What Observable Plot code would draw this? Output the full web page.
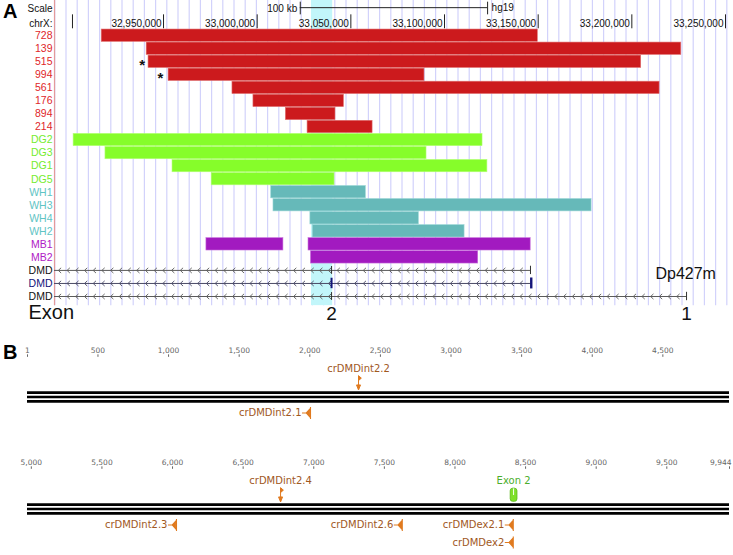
<!DOCTYPE html>
<html><head><meta charset="utf-8">
<script src="https://cdn.jsdelivr.net/npm/d3@7"></script>
<script src="https://cdn.jsdelivr.net/npm/@observablehq/plot@0.6"></script>
<style>
body{margin:0;background:#fff;}
#wrap{position:relative;width:733px;height:555px;overflow:hidden;font-family:"Liberation Sans",Arial,sans-serif;}
.panel{position:absolute;left:0;}
.panel svg{overflow:visible;}
.letter{position:absolute;font:bold 20px "Liberation Sans",Arial,sans-serif;line-height:1;}
</style></head><body><div id="wrap"></div>
<script>
// ---------- Panel A data ----------
const xDomainA = [32891800, 33254270];
const trackLabels = ["728","139","515","994","561","176","894","214","DG2","DG3","DG1","DG5","WH1","WH3","WH4","WH2","MB1","MB2","DMD","DMD","DMD"];
const trackGroup  = ["r","r","r","r","r","r","r","r","g","g","g","g","t","t","t","t","p","p","k","n","k"];
const groupLabelColor = {r:"#e0262a", g:"#74ec2e", t:"#5fc4c4", p:"#b020c6", k:"#111111", n:"#12127a"};
const groupBarColor   = {r:"#cc1a1d", g:"#86fd2a", t:"#66b9b9", p:"#a21ac0"};
const groupBarEdge    = {r:"#e07070", g:"#b6ff7a", t:"#9ad6d6", p:"#c870dc"};

const delRow   = [0,1,2,3,4,5,6,7,8,9,10,11,12,13,14,15,16,16,17];
const delStart = [32917000,32941000,32942000,32952700,32986800,32998000,33015300,33026900,32902000,32919000,32954800,32975700,33007500,33008700,33028400,33029700,32972900,33027400,33028700];
const delEnd   = [33149800,33226400,33205000,33089300,33214800,33046300,33041800,33061600,33120300,33090400,33122900,33041300,33058000,33178500,33086300,33110700,33014000,33146000,33118000];

const asteriskRow = [2,3];
const asteriskPos = [32938600, 32948400];

const chrTicks = [32950000,33000000,33050000,33100000,33150000,33200000,33250000];
const chrTickLabels = ["32,950,000","33,000,000","33,050,000","33,100,000","33,150,000","33,200,000","33,250,000"];
const chrStartTick = [32901400];
const scaleBar = [33023000, 33123000];

const geneRow   = [18,19,20];
const geneStart = [32891800,32891800,32891800];
const geneEnd   = [33145900,33146300,33229200];
const geneLine  = ["#5a5a5a","#4a4a66","#5a5a5a"];
const exon2Pos  = 33039700;
const exon1Pos  = 33229200;
const highlight = [33029000, 33040300];

const guideStart = 32891960, guideStep = 5979;   // UCSC light-blue guide lines
const chevronStep = 4650;                        // intron direction arrows

// ---------- Panel B data ----------
const row1Ticks  = [1,500,1000,1500,2000,2500,3000,3500,4000,4500];
const row1Labels = ["1","500","1,000","1,500","2,000","2,500","3,000","3,500","4,000","4,500"];
const row2Ticks  = [5000,5500,6000,6500,7000,7500,8000,8500,9000,9500,9944];
const row2Labels = ["5,000","5,500","6,000","6,500","7,000","7,500","8,000","8,500","9,000","9,500","9,944"];
const seqRows = [[1,4972],[4973,9944]];

const fwdNames = ["crDMDint2.2","crDMDint2.4"];
const fwdPos   = [2345, 6765];
const revNames = ["crDMDint2.1","crDMDint2.3","crDMDint2.6","crDMDex2.1","crDMDex2"];
const revPos   = [2005, 6028, 7627, 8413, 8413];
const revLane  = [1, 1, 1, 1, 2];
const exonNames = ["Exon 2"];
const exonPos   = [8415];

// ---------- helpers ----------
const wrap = document.getElementById("wrap");
function place(node, top){ const d=document.createElement("div"); d.className="panel"; d.style.top=top+"px"; d.appendChild(node); wrap.appendChild(d); }
function letter(t, left, top){ const d=document.createElement("div"); d.className="letter"; d.textContent=t; d.style.left=left+"px"; d.style.top=top+"px"; wrap.appendChild(d); }

const chevronSym = {draw(c){ c.moveTo(1.4,-2.6); c.lineTo(-1.4,0); c.lineTo(1.4,2.6); }};
const fwdSym = {draw(c){
  c.moveTo(0,-7); c.lineTo(0,3);
  c.moveTo(0,-7); c.lineTo(2.8,-4.6); c.lineTo(0,-2.2); c.closePath();
  c.moveTo(-2,2.2); c.lineTo(2,2.2); c.lineTo(0,7.2); c.closePath();
}};
const revSym = {draw(c){
  c.moveTo(-8.5,0); c.lineTo(-4.2,0);
  c.moveTo(-4.2,0); c.lineTo(-0.8,-3.8); c.lineTo(-0.8,3.8); c.closePath();
  c.moveTo(0,-6); c.lineTo(0,6);
}};
const exonSym = {draw(c){
  const w=3.4,h=6.6,r=2.6;
  c.moveTo(-w+r,-h); c.lineTo(w-r,-h); c.arcTo(w,-h,w,-h+r,r); c.lineTo(w,h-r); c.arcTo(w,h,w-r,h,r);
  c.lineTo(-w+r,h); c.arcTo(-w,h,-w,h-r,r); c.lineTo(-w,-h+r); c.arcTo(-w,-h,-w+r,-h,r); c.closePath();
}};

// ---------- Panel A ----------
const guides = d3.range(guideStart, xDomainA[1], guideStep);
const delIdx = d3.range(delRow.length);
const chevrons = geneRow.flatMap((r,i)=> d3.range(geneStart[i]+chevronStep*0.6, geneEnd[i]-chevronStep*0.3, chevronStep).map(x=>({x, r, i})));

const panelA = Plot.plot({
  width: 733, height: 325,
  marginLeft: 54, marginRight: 0, marginTop: 0, marginBottom: 0,
  x: {domain: xDomainA, axis: null},
  y: {domain: [0, 20], range: [35.2, 296], axis: null},
  color: {type: "identity"},
  style: {fontFamily: "Liberation Sans, Arial, sans-serif", fontSize: "10px", background: "transparent", overflow: "visible"},
  marks: [
    Plot.ruleX(guides, {x: d=>d, y1: -2.7, y2: 20.7, stroke: "#d2d2fb", strokeWidth: 1.2}),
    Plot.rect([highlight], {x1: d=>d[0], x2: d=>d[1], y1: -2.7, y2: 20.7, fill: "#c2f6fa"}),
    Plot.ruleX([xDomainA[0]], {x: d=>d, y1: -2.7, y2: 20.7, stroke: "#e49a9a", strokeWidth: 1.2}),
    // scale bar
    Plot.ruleY([scaleBar], {x1: d=>d[0], x2: d=>d[1], y: -2.15, stroke: "#222", strokeWidth: 1}),
    Plot.ruleX(scaleBar, {x: d=>d, y1: -2.57, y2: -1.6, stroke: "#222", strokeWidth: 1}),
    Plot.text(["100 kb"], {x: scaleBar[0], y: -2.05, text: d=>d, textAnchor: "end", dx: -3, fill: "#111"}),
    Plot.text(["hg19"], {x: scaleBar[1], y: -2.15, text: d=>d, textAnchor: "start", dx: 4, fill: "#111"}),
    // chr ruler
    Plot.ruleX(chrTicks.concat(chrStartTick), {x: d=>d, y1: -1.6, y2: -0.53, stroke: "#222", strokeWidth: 1}),
    Plot.text(chrTicks, {x: d=>d, y: -0.95, text: (d,i)=>chrTickLabels[i], textAnchor: "end", dx: -2, fill: "#111"}),
    Plot.text(["Scale","chrX:"], {y: (d,i)=> i===0 ? -2.05 : -0.95, text: d=>d, frameAnchor: "left", textAnchor: "end", dx: -2, fill: "#111"}),
    // deletion bars
    Plot.rect(delIdx, {
      x1: i=>delStart[i], x2: i=>delEnd[i],
      y1: i=>delRow[i]-0.5, y2: i=>delRow[i]+0.5,
      fill: i=>groupBarColor[trackGroup[delRow[i]]],
      stroke: i=>groupBarEdge[trackGroup[delRow[i]]], strokeWidth: 0.6,
      insetTop: 0.35, insetBottom: 0.35
    }),
    Plot.text(asteriskRow, {x: (d,i)=>asteriskPos[i], y: d=>d, text: ()=>"*", fontSize: 15, fontWeight: "bold", fill: "#111", dy: 3}),
    // track labels
    Plot.text(trackLabels, {y: (d,i)=>i, text: d=>d, frameAnchor: "left", textAnchor: "end", dx: -2, fontSize: 10.5, fill: (d,i)=>groupLabelColor[trackGroup[i]]}),
    // gene models
    Plot.ruleY(geneRow, {y: d=>d, x1: (d,i)=>geneStart[i], x2: (d,i)=>geneEnd[i], stroke: (d,i)=>geneLine[i], strokeWidth: 1}),
    Plot.dot(chevrons, {x: "x", y: "r", symbol: chevronSym, fill: "none", stroke: d=>geneLine[d.i], strokeWidth: 0.9}),
    Plot.ruleX(geneRow, {x: exon2Pos, y1: d=>d-(d===19?0.4:0.3), y2: d=>d+(d===19?0.4:0.3), stroke: d=>d===19?"#14147a":"#333", strokeWidth: d=>d===19?2:1}),
    Plot.ruleX(geneRow, {x: (d,i)=>geneEnd[i], y1: d=>d-(d===19?0.42:0.32), y2: d=>d+(d===19?0.42:0.32), stroke: d=>d===19?"#14147a":"#333", strokeWidth: d=>d===19?2.4:1}),
    Plot.text(["Dp427m"], {x: 33212600, y: 18.3, text: d=>d, textAnchor: "start", fontSize: 16, fill: "#111"}),
    Plot.text(["Exon"], {x: xDomainA[0], y: 21.2, text: d=>d, textAnchor: "start", dx: -26, fontSize: 20, fill: "#111"}),
    Plot.text(["2","1"], {x: (d,i)=> i===0 ? exon2Pos : exon1Pos, y: 21.3, text: d=>d, fontSize: 19, fill: "#111"})
  ]
});
place(panelA, 0);
letter("A", 3, 1);

// ---------- Panel B ----------
const LANE = {ruler: -3, tickTop: -2.72, tickBot: -2.56, above: -1.84, marker: -0.92, below: 1.03, below2: 2.16};
const labelColor = "#a0581e", markColor = "#e07a1f";

function seqRow(k, ticks, labels, height){
  const [s, e] = seqRows[k];
  const inRow = x => x >= s && x <= e;
  const fwd = d3.range(fwdPos.length).filter(i=>inRow(fwdPos[i]));
  const rev = d3.range(revPos.length).filter(i=>inRow(revPos[i]));
  const exo = d3.range(exonPos.length).filter(i=>inRow(exonPos[i]));
  const tickIdx = d3.range(ticks.length);
  const midIdx = tickIdx.filter(i=>ticks[i] !== e);
  const endIdx = tickIdx.filter(i=>ticks[i] === e);
  return Plot.plot({
    width: 733, height,
    marginLeft: 27, marginRight: 4, marginTop: 0, marginBottom: 0,
    x: {domain: [s, e], axis: null},
    y: {domain: [0, 1], range: [58.5, 74], axis: null},
    style: {fontFamily: "DejaVu Sans, sans-serif", background: "transparent", overflow: "visible"},
    marks: [
      Plot.text(midIdx, {x: i=>ticks[i], y: LANE.ruler, text: i=>labels[i], fontSize: 7.5, fill: "#666", textAnchor: "middle"}),
      Plot.text(endIdx, {x: i=>ticks[i], y: LANE.ruler, text: i=>labels[i], fontSize: 7.5, fill: "#666", textAnchor: "end", dx: 2}),
      Plot.ruleX(ticks, {x: d=>d, y1: LANE.tickTop, y2: LANE.tickBot, stroke: "#666", strokeWidth: 1}),
      Plot.ruleY([-0.28, 0, 0.28], {y: d=>d, x1: s, x2: e, stroke: "#000", strokeWidth: 2.6}),
      Plot.text(fwd, {x: i=>fwdPos[i], y: LANE.above, text: i=>fwdNames[i], fontSize: 10, fill: labelColor}),
      Plot.dot(fwd, {x: i=>fwdPos[i], y: LANE.marker, symbol: fwdSym, fill: markColor, stroke: markColor, strokeWidth: 1}),
      Plot.text(exo, {x: i=>exonPos[i], y: LANE.above, text: i=>exonNames[i], fontSize: 10, fill: "#4cae2c"}),
      Plot.dot(exo, {x: i=>exonPos[i], y: LANE.marker, symbol: exonSym, fill: "#7fe02a", stroke: "#5cb81a", strokeWidth: 0.8}),
      Plot.ruleX(exo, {x: i=>exonPos[i], y1: LANE.marker-0.38, y2: LANE.marker+0.05, stroke: "#f4fff0", strokeWidth: 1}),
      Plot.text(rev, {x: i=>revPos[i], y: i=> revLane[i]===1 ? LANE.below : LANE.below2, text: i=>revNames[i], textAnchor: "end", dx: -9, fontSize: 10, fill: labelColor}),
      Plot.dot(rev, {x: i=>revPos[i], y: i=> revLane[i]===1 ? LANE.below : LANE.below2, symbol: revSym, fill: markColor, stroke: markColor, strokeWidth: 1.1})
    ]
  });
}
place(seqRow(0, row1Ticks, row1Labels, 88), 338);
place(seqRow(1, row2Ticks, row2Labels, 105), 450);
letter("B", 3, 342);
</script></body></html>
